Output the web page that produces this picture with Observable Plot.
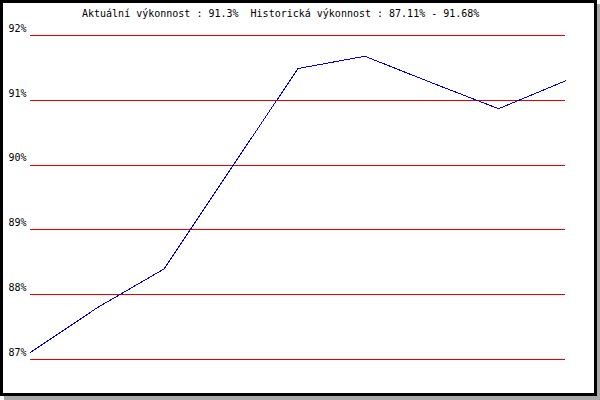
<!DOCTYPE html>
<html><head><meta charset="utf-8">
<script src="https://cdn.jsdelivr.net/npm/d3@7"></script>
<script src="https://cdn.jsdelivr.net/npm/@observablehq/plot@0.6"></script>
<style>
body{margin:0;background:#fff}
#wrap{position:relative;width:600px;height:400px;overflow:hidden;background:#fff}
#chart{position:absolute;left:0;top:0}
#chart svg{display:block}
#frame{position:absolute;left:0;top:0;width:591px;height:390px;border:3px solid #000;box-shadow:4px 4px 0 #a8a8a8;pointer-events:none}
</style></head><body>
<div id="wrap"><div id="chart"></div><div id="frame"></div></div>
<script>
const periods = [0, 1, 2, 3, 4, 5, 6, 7, 8];
const values = [87.11, 87.80, 88.40, 89.95, 91.49, 91.68, 91.27, 90.87, 91.30];
const yTicks = [87, 88, 89, 90, 91, 92];
const titleParts = ["Aktuální výkonnost : 91.3%", "Historická výkonnost : 87.11% - 91.68%"];

const data = periods.map((p, i) => ({p, v: values[i]}));
const font = "'DejaVu Sans Mono', 'Liberation Mono', monospace";

const chart = Plot.plot({
  width: 600,
  height: 400,
  marginLeft: 30,
  marginRight: 35,
  marginTop: 35,
  marginBottom: 41,
  style: {fontFamily: font, fontSize: "10px", color: "#000", background: "transparent"},
  x: {domain: [0, 8], axis: null},
  y: {domain: [87, 92], axis: null},
  marks: [
    Plot.ruleY(yTicks, {stroke: "#e80000", strokeWidth: 1, shapeRendering: "crispEdges"}),
    Plot.axisY(yTicks, {tickSize: 0, tickPadding: 4, tickFormat: d => d + "%", dy: -7, fill: "#000", fontSize: 10, label: null}),
    Plot.line(data, {x: "p", y: "v", stroke: "#0000d0", strokeWidth: 1, shapeRendering: "crispEdges"})
  ]
});
document.getElementById("chart").appendChild(chart);

d3.select(chart).append("text")
  .attr("x", 82)
  .attr("y", 17)
  .attr("fill", "#000")
  .attr("text-anchor", "start")
  .style("text-anchor", "start")
  .style("font-family", font)
  .style("font-size", "10px")
  .style("white-space", "pre")
  .text(titleParts.join("  "));
</script>
</body></html>
